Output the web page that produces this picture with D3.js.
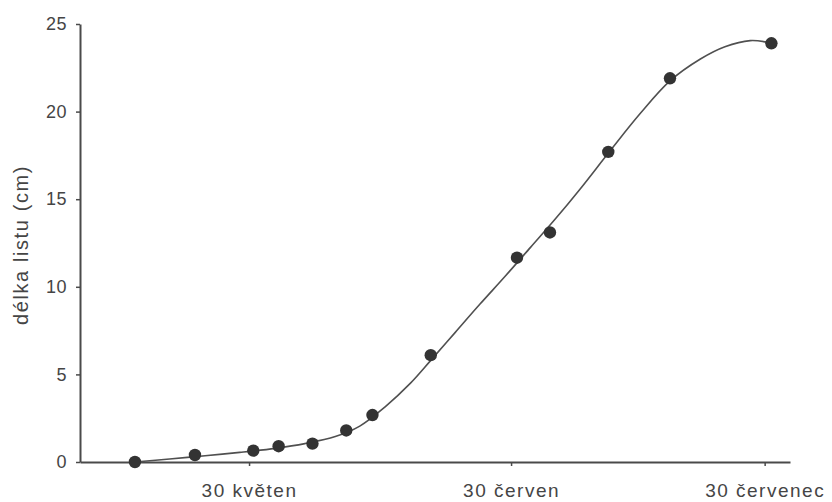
<!DOCTYPE html>
<html>
<head>
<meta charset="utf-8">
<script src="https://cdn.jsdelivr.net/npm/d3@7"></script>
<style>
  html, body { margin: 0; padding: 0; background: #fff; }
  svg { display: block; }
  text { font-family: "Liberation Sans", Arial, Helvetica, sans-serif; fill: #454545; }
</style>
</head>
<body>
<script>
// Leaf length measurements: days counted from 30 May, length in cm
const measureDays = [-13.5, -6.4, 0.5, 3.5, 7.5, 11.5, 14.6, 21.5, 31.7, 35.6, 42.5, 49.8, 61.8];
const measureLengths = [0.0, 0.4, 0.65, 0.9, 1.05, 1.8, 2.68, 6.1, 11.66, 13.1, 17.7, 21.9, 23.9];

// Fitted growth curve, sampled along the season
const curveDays = [-13.5, -9.4, -5.2, -1.1, 3.1, 6.6, 10.2, 13.1, 16.1, 19.1, 21.5, 24.4, 27.3, 30.3, 33.3, 36.2, 39.2, 42.7, 46.3, 49.8, 53.4, 56.3, 59.3, 61.4];
const curveLengths = [0.0, 0.17, 0.36, 0.55, 0.78, 1.05, 1.45, 2.05, 3.15, 4.5, 5.8, 7.4, 9.0, 10.6, 12.25, 13.85, 15.6, 17.75, 19.9, 21.75, 23.0, 23.7, 24.05, 23.95];

// Axis ticks
const xTickDays = [0, 31, 61];
const xTickLabels = ["30 květen", "30 červen", "30 červenec"];
const yTicks = [0, 5, 10, 15, 20, 25];
const yTitle = "délka listu (cm)";

const width = 832, height = 502;
const svg = d3.select("body").append("svg")
  .attr("width", width).attr("height", height);

const x = d3.scaleLinear().domain([-20, 64]).range([80, 790]);
const y = d3.scaleLinear().domain([0, 25]).range([462, 24]);

const axisColor = "#4a4a4a";

// x axis
const gx = svg.append("g")
  .attr("transform", `translate(0,${y(0)})`)
  .call(d3.axisBottom(x)
    .tickValues(xTickDays)
    .tickFormat((d, i) => xTickLabels[i])
    .tickSize(4).tickSizeOuter(0).tickPadding(17.5));
gx.select(".domain").attr("stroke", axisColor).attr("stroke-width", 2);
gx.selectAll(".tick line").attr("stroke", axisColor).attr("stroke-width", 1.5);
gx.selectAll(".tick text")
  .attr("font-size", 19).attr("fill", "#454545")
  .attr("font-family", null)
  .style("letter-spacing", "1.5px");

// y axis
const gy = svg.append("g")
  .attr("transform", `translate(${x(-20)},0)`)
  .call(d3.axisLeft(y)
    .tickValues(yTicks)
    .tickSize(4).tickSizeOuter(0).tickPadding(9));
gy.select(".domain").attr("stroke", axisColor).attr("stroke-width", 2);
gy.selectAll(".tick line").attr("stroke", axisColor).attr("stroke-width", 1.5);
gy.selectAll(".tick text")
  .attr("font-size", 18).attr("fill", "#454545")
  .attr("font-family", null)
  .style("letter-spacing", "0.5px");

// y axis title
svg.append("text")
  .attr("transform", `translate(28,${(y(0) + y(25)) / 2 + 2}) rotate(-90)`)
  .attr("text-anchor", "middle")
  .attr("font-size", 20)
  .style("letter-spacing", "1.6px")
  .text(yTitle);

// growth curve
const line = d3.line()
  .x((d, i) => x(curveDays[i]))
  .y((d, i) => y(curveLengths[i]))
  .curve(d3.curveCatmullRom.alpha(0.5));

svg.append("path")
  .datum(curveDays)
  .attr("d", line)
  .attr("fill", "none")
  .attr("stroke", "#505050")
  .attr("stroke-width", 1.6);

// measured points
svg.append("g").selectAll("circle")
  .data(measureDays)
  .join("circle")
  .attr("cx", d => x(d))
  .attr("cy", (d, i) => y(measureLengths[i]))
  .attr("r", 6.2)
  .attr("fill", "#333");
</script>
</body>
</html>
